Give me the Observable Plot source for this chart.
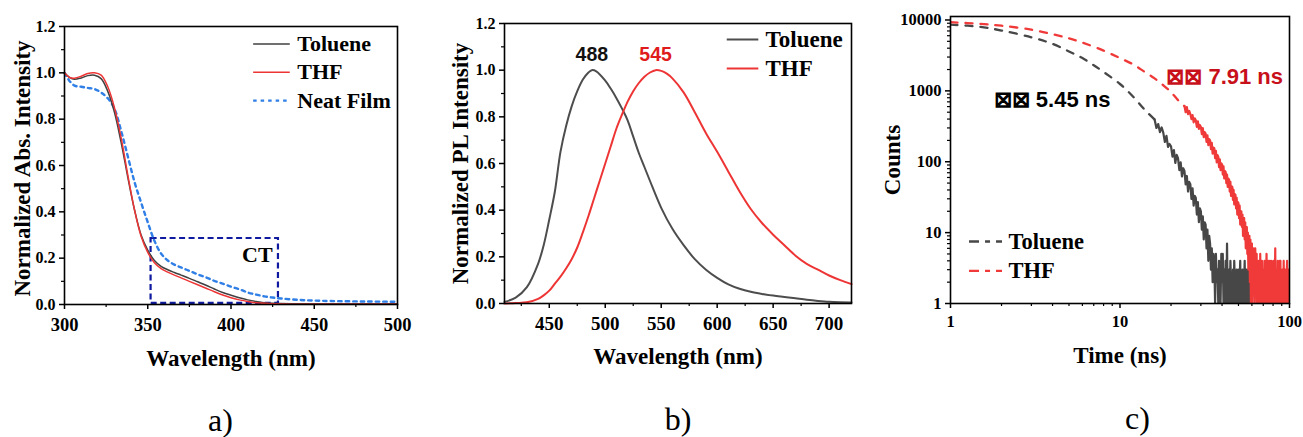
<!DOCTYPE html>
<html>
<head>
<meta charset="utf-8">
<script src="https://cdn.jsdelivr.net/npm/d3@7"></script>
<script src="https://cdn.jsdelivr.net/npm/@observablehq/plot@0.6"></script>
<style>
  html, body { margin: 0; padding: 0; background: #fff; }
  #wrap { position: relative; width: 1303px; height: 437px; overflow: hidden; background: #fff; }
  .panel { position: absolute; top: 0; }
</style>
</head>
<body>
<div id="wrap">
  <div class="panel" id="pa" style="left:0px"></div>
  <div class="panel" id="pb" style="left:430px"></div>
  <div class="panel" id="pc" style="left:870px"></div>
</div>
<script>
// ---------- Panel a: absorption ----------
const absWavelength = [300, 303, 306, 310, 314, 318, 322, 326, 330, 334, 338, 342, 346, 350, 354, 358, 362, 366, 370, 375, 380, 385, 390, 395, 400, 405, 410, 415, 420, 425, 430, 440, 450, 460, 480, 500];
const absToluene = [1.0, 0.98, 0.972, 0.978, 0.988, 0.99, 0.975, 0.92, 0.83, 0.70, 0.55, 0.41, 0.30, 0.235, 0.19, 0.165, 0.15, 0.138, 0.127, 0.113, 0.098, 0.083, 0.067, 0.052, 0.04, 0.029, 0.02, 0.013, 0.008, 0.005, 0.004, 0.003, 0.003, 0.003, 0.003, 0.003];
const absTHF = [1.0, 0.98, 0.977, 0.985, 0.997, 1.0, 0.99, 0.94, 0.85, 0.72, 0.56, 0.41, 0.295, 0.225, 0.18, 0.155, 0.14, 0.127, 0.115, 0.1, 0.085, 0.07, 0.055, 0.041, 0.029, 0.02, 0.013, 0.008, 0.005, 0.003, 0.002, 0.001, 0.001, 0.001, 0.001, 0.001];
const absNeatFilm = [1.0, 0.965, 0.945, 0.94, 0.935, 0.93, 0.915, 0.89, 0.845, 0.75, 0.64, 0.53, 0.44, 0.355, 0.275, 0.22, 0.19, 0.172, 0.16, 0.145, 0.13, 0.117, 0.102, 0.09, 0.077, 0.066, 0.052, 0.043, 0.035, 0.03, 0.026, 0.02, 0.017, 0.015, 0.013, 0.012];
const ctBox = {x1: 352, x2: 428.5, y1: 0.005, y2: 0.285};
const ctLabel = "CT";
const absSeries = ["Toluene", "THF", "Neat Film"];
const absXTicks = [300, 350, 400, 450, 500];
const absXMinor = [325, 375, 425, 475];
const absYTicks = [0, 0.2, 0.4, 0.6, 0.8, 1.0, 1.2];
const absYMinor = [0.1, 0.3, 0.5, 0.7, 0.9, 1.1];

// ---------- Panel b: PL ----------
const plWavelengthTol = [410, 420, 430, 440, 445, 450, 455, 460, 465, 470, 475, 480, 485, 488, 492, 500, 505, 510, 515, 520, 525, 530, 535, 540, 550, 560, 570, 580, 590, 600, 610, 620, 630, 640, 650, 660, 670, 680, 690, 700, 710, 720];
const plToluene = [0.007, 0.025, 0.07, 0.17, 0.25, 0.36, 0.48, 0.65, 0.76, 0.845, 0.91, 0.96, 0.99, 1.0, 0.995, 0.955, 0.92, 0.88, 0.835, 0.785, 0.715, 0.645, 0.585, 0.525, 0.41, 0.32, 0.25, 0.19, 0.145, 0.11, 0.082, 0.063, 0.05, 0.041, 0.034, 0.028, 0.022, 0.016, 0.011, 0.007, 0.005, 0.004];
const plWavelengthTHF = [410, 420, 430, 440, 445, 450, 455, 460, 465, 470, 475, 480, 485, 490, 495, 500, 505, 510, 515, 520, 525, 530, 535, 540, 545, 550, 555, 560, 570, 580, 590, 600, 610, 620, 630, 640, 650, 660, 670, 680, 690, 700, 710, 720];
const plTHF = [0.0, 0.002, 0.005, 0.02, 0.035, 0.055, 0.085, 0.115, 0.15, 0.19, 0.24, 0.305, 0.375, 0.45, 0.525, 0.6, 0.675, 0.75, 0.81, 0.865, 0.91, 0.945, 0.972, 0.99, 1.0, 0.997, 0.985, 0.965, 0.905, 0.82, 0.73, 0.65, 0.565, 0.48, 0.405, 0.345, 0.295, 0.25, 0.205, 0.17, 0.145, 0.12, 0.1, 0.083];
const plPeaks = [488, 545];
const plPeakLabels = ["488", "545"];
const plSeries = ["Toluene", "THF"];
const plXTicks = [450, 500, 550, 600, 650, 700];
const plXMinor = [425, 475, 525, 575, 625, 675];
const plYTicks = [0, 0.2, 0.4, 0.6, 0.8, 1.0, 1.2];
const plYMinor = [0.1, 0.3, 0.5, 0.7, 0.9, 1.1];

// ---------- Panel c: TRPL decay ----------
const decayTimeTol = [1, 1.5, 2, 3, 4, 5, 6, 7, 8, 10, 12, 14, 16];
const decayCountsTol = [8600, 8000, 7100, 5700, 4600, 3600, 2900, 2300, 1850, 1250, 820, 540, 395];
const decayTimeTHF = [1, 1.5, 2, 3, 4, 5, 6, 8, 10, 12, 14, 16, 18, 20, 22, 24];
const decayCountsTHF = [9300, 8800, 8300, 7300, 6300, 5500, 4800, 3700, 2900, 2350, 1850, 1500, 1200, 960, 740, 610];
const channelWidth = 0.4; // ns per channel in the noisy tails
const tolTailStart = 16;
const tolTailCounts = [395,300,340,262,305, 258,190,232,162,178, 165,118,146,96,125, 112,76,98,62,81, 74,48,63,38,52, 48,30,42,24,33, 31,18,27,14,22, 20,11,17,8,14, 13,6,11,4,9, 7,3,6,2,5, 4,1,5,2,3, 1,4,2,1,5, 2,5,1,3,1, 4,1,7,1,2, 3,1,4,2,1, 1,3,1,4,2, 1,2,3,1,1, 3,1,2,4,1, 1,2,3,1,1, 2,4,1,1,3, 1,1,3,1,2, 3,1,1,2,1];
const thfTailStart = 24;
const thfTailCounts = [610,500,590,470,520, 470,400,455,360,410, 385,310,372,290,330, 310,245,298,222,262, 250,190,236,172,208, 200,150,185,130,158, 155,112,142,98,124, 118,84,108,76,95, 92,66,86,58,74, 72,50,66,44,58, 56,38,52,33,45, 44,29,40,25,35, 34,22,31,18,27, 26,16,24,13,20, 20,12,18,9,15, 16,8,14,6,11, 12,5,10,3,9, 9,2,8,1,6, 7,1,5,2,6, 4,1,6,2,3, 5,1,3,1,4, 2,4,1,5,1, 3,1,4,1,2, 1,3,2,4,1, 3,1,2,5,1, 2,1,4,1,3, 1,4,3,1,2, 4,1,1,2,3, 1,4,1,3,1, 2,6,1,1,2, 1,3,1,4,1, 3,1,2,1,4, 1,4,1,3,1, 2,1,3,1,2, 1,4,1,3,1, 3,1,2,1,3, 1,3,4,1,2, 2,1,3,1,2, 3];
const lifetimeLabels = ["\u22A0\u22A0 5.45 ns", "\u22A0\u22A0 7.91 ns"];
const decaySeries = ["Toluene", "THF"];
const decayXTicks = [1, 10, 100];
const decayXMinor = [2,3,4,5,6,7,8,9,20,30,40,50,60,70,80,90];
const decayYTicks = [1, 10, 100, 1000, 10000];
const decayYMinor = [2,3,4,5,6,7,8,9,20,30,40,50,60,70,80,90,200,300,400,500,600,700,800,900,2000,3000,4000,5000,6000,7000,8000,9000];

// ---------- helpers ----------
const SERIF = "'Liberation Serif', 'Times New Roman', serif";
const SANS = "'Liberation Sans', Arial, sans-serif";
const C_GRAY = "#404040", C_GRAY_B = "#4d4d4d", C_RED = "#ee3535", C_BLUE = "#2f7fe6", C_NAVY = "#0f1a9e";
const C_GRAY_C = "#474747", C_RED_C = "#f03a3a";

function zipXY(xs, ys) { return xs.map((x, i) => ({x, y: ys[i]})); }
function tail(start, counts) { return counts.map((c, i) => ({x: start + i * channelWidth, y: c})); }
function baseStyle() {
  return {fontFamily: SERIF, fontWeight: "bold", color: "#000", background: "transparent", overflow: "visible"};
}
function axes(o) {
  return [
    Plot.axisX({ticks: o.xt, tickSize: 5, tickPadding: o.xpad, tickFormat: o.xf, fontSize: o.xfs, label: null, strokeWidth: 1.5}),
    Plot.axisX({ticks: o.xm, tickSize: 3, tickFormat: () => "", label: null, strokeWidth: 1.2}),
    Plot.axisY({ticks: o.yt, tickSize: 5, tickPadding: 4, tickFormat: o.yf, fontSize: o.yfs, label: null, strokeWidth: 1.5}),
    Plot.axisY({ticks: o.ym, tickSize: 3, tickFormat: () => "", label: null, strokeWidth: 1.2}),
    Plot.frame({stroke: "#000", strokeWidth: 1.6})
  ];
}
function titles(xt, yt, letter, o) {
  return [
    Plot.text([xt], {text: d => d, frameAnchor: "bottom", dx: o.xdx || 0, dy: o.xdy, lineAnchor: "bottom", fontSize: 23, fontWeight: "bold"}),
    Plot.text([yt], {text: d => d, frameAnchor: "left", dx: o.ydx, dy: o.ydy || 0, rotate: -90, lineAnchor: "middle", textAnchor: "middle", fontSize: 23, fontWeight: "bold"}),
    Plot.text([letter], {text: d => d, frameAnchor: "bottom", dx: o.ldx, dy: o.ldy, lineAnchor: "bottom", fontSize: 32, fontWeight: "normal"})
  ];
}

// ---------- Panel a ----------
const legA = {x1: 413.6, x2: 435.6, xt: 439.8, ys: [1.124, 1.002, 0.88]};
const pa = Plot.plot({
  width: 420, height: 437,
  marginLeft: 64, marginRight: 23, marginTop: 26, marginBottom: 133,
  x: {domain: [300, 500]},
  y: {domain: [0, 1.2]},
  style: baseStyle(),
  marks: [
    Plot.rect([ctBox], {x1: "x1", x2: "x2", y1: "y1", y2: "y2", fill: "none", stroke: C_NAVY, strokeWidth: 2.2, strokeDasharray: "6,3.5"}),
    Plot.line(zipXY(absWavelength, absNeatFilm), {x: "x", y: "y", stroke: C_BLUE, strokeWidth: 2.4, strokeDasharray: "3.5,4", curve: "catmull-rom"}),
    Plot.line(zipXY(absWavelength, absToluene), {x: "x", y: "y", stroke: C_GRAY, strokeWidth: 1.5, curve: "catmull-rom"}),
    Plot.line(zipXY(absWavelength, absTHF), {x: "x", y: "y", stroke: C_RED, strokeWidth: 1.5, curve: "catmull-rom"}),
    Plot.text([ctLabel], {text: d => d, x: 425, y: 0.213, textAnchor: "end", lineAnchor: "middle", fontSize: 22, fontWeight: "bold"}),
    Plot.ruleY([legA.ys[0]], {x1: legA.x1, x2: legA.x2, stroke: C_GRAY, strokeWidth: 1.5}),
    Plot.ruleY([legA.ys[1]], {x1: legA.x1, x2: legA.x2, stroke: C_RED, strokeWidth: 1.5}),
    Plot.ruleY([legA.ys[2]], {x1: legA.x1, x2: legA.x2, stroke: C_BLUE, strokeWidth: 2.4, strokeDasharray: "3.5,4"}),
    Plot.text(absSeries, {text: d => d, x: legA.xt, y: (d, i) => legA.ys[i], textAnchor: "start", lineAnchor: "middle", fontSize: 22, fontWeight: "bold"}),
    ...axes({xt: absXTicks, xm: absXMinor, xf: d => String(d), xfs: 18.5, xpad: 8, yt: absYTicks, ym: absYMinor, yf: d3.format(".1f"), yfs: 16}),
    ...titles("Wavelength (nm)", "Normalized Abs. Intensity", "a)", {xdy: 61, ydx: -42.3, ydy: 3, ldx: -10.5, ldy: 126})
  ]
});
document.getElementById("pa").appendChild(pa);

// ---------- Panel b ----------
const legB = {x1: 609, x2: 637.2, xt: 643.2, ys: [1.131, 1.007]};
const pb = Plot.plot({
  width: 430, height: 437,
  marginLeft: 74, marginRight: 9, marginTop: 23, marginBottom: 134,
  x: {domain: [410, 720]},
  y: {domain: [0, 1.2]},
  style: baseStyle(),
  marks: [
    Plot.line(zipXY(plWavelengthTol, plToluene), {x: "x", y: "y", stroke: C_GRAY_B, strokeWidth: 2, curve: "catmull-rom"}),
    Plot.line(zipXY(plWavelengthTHF, plTHF), {x: "x", y: "y", stroke: C_RED, strokeWidth: 2, curve: "catmull-rom"}),
    Plot.text(plPeakLabels, {text: d => d, x: (d, i) => plPeaks[i], y: 1.068, fill: (d, i) => i === 0 ? "#111" : "#e01b1b", fontFamily: SANS, fontSize: 19.5, fontWeight: "bold", lineAnchor: "middle"}),
    Plot.ruleY([legB.ys[0]], {x1: legB.x1, x2: legB.x2, stroke: C_GRAY_B, strokeWidth: 2}),
    Plot.ruleY([legB.ys[1]], {x1: legB.x1, x2: legB.x2, stroke: C_RED, strokeWidth: 2}),
    Plot.text(plSeries, {text: d => d, x: legB.xt, y: (d, i) => legB.ys[i], textAnchor: "start", lineAnchor: "middle", fontSize: 23, fontWeight: "bold"}),
    ...axes({xt: plXTicks, xm: plXMinor, xf: d => String(d), xfs: 19, xpad: 8, yt: plYTicks, ym: plYMinor, yf: d3.format(".1f"), yfs: 16}),
    ...titles("Wavelength (nm)", "Normalized PL Intensity", "b)", {xdy: 60, ydx: -44, ydy: 0, ldx: 0, ldy: 126})
  ]
});
document.getElementById("pb").appendChild(pb);

// ---------- Panel c ----------
const legC = {x1: 1.295, x2: 2.027, xt: 2.198, ys: [7.5, 2.89]};
const dashDecay = "7,8";
const pc = Plot.plot({
  width: 433, height: 437,
  marginLeft: 80, marginRight: 14, marginTop: 16, marginBottom: 134,
  x: {type: "log", domain: [1, 100]},
  y: {type: "log", domain: [1, 11200]},
  style: baseStyle(),
  marks: [
    Plot.line(zipXY(decayTimeTol, decayCountsTol), {x: "x", y: "y", stroke: C_GRAY_C, strokeWidth: 2.3, strokeDasharray: dashDecay, curve: "catmull-rom", clip: true}),
    Plot.line(tail(tolTailStart, tolTailCounts), {x: "x", y: "y", stroke: C_GRAY_C, strokeWidth: 2.2, clip: true}),
    Plot.line(zipXY(decayTimeTHF, decayCountsTHF), {x: "x", y: "y", stroke: C_RED_C, strokeWidth: 2.3, strokeDasharray: dashDecay, curve: "catmull-rom", clip: true}),
    Plot.line(tail(thfTailStart, thfTailCounts), {x: "x", y: "y", stroke: C_RED_C, strokeWidth: 2.2, clip: true}),
    Plot.text([lifetimeLabels[0]], {text: d => d, x: 8.78, y: 750, textAnchor: "end", lineAnchor: "middle", fontFamily: SANS, fontSize: 22, fontWeight: "bold", fill: "#000"}),
    Plot.text([lifetimeLabels[1]], {text: d => d, x: 91.6, y: 1585, textAnchor: "end", lineAnchor: "middle", fontFamily: SANS, fontSize: 22, fontWeight: "bold", fill: "#c8101a"}),
    Plot.ruleY([legC.ys[0]], {x1: legC.x1, x2: legC.x2, stroke: C_GRAY_C, strokeWidth: 2.4, strokeDasharray: "10,6,5,6"}),
    Plot.ruleY([legC.ys[1]], {x1: legC.x1, x2: legC.x2, stroke: C_RED_C, strokeWidth: 2.4, strokeDasharray: "10,6,5,6"}),
    Plot.text(decaySeries, {text: d => d, x: legC.xt, y: (d, i) => legC.ys[i], textAnchor: "start", lineAnchor: "middle", fontSize: 22.5, fontWeight: "bold"}),
    ...axes({xt: decayXTicks, xm: decayXMinor, xf: d => String(d), xfs: 16.5, xpad: 7, yt: decayYTicks, ym: decayYMinor, yf: d => String(d), yfs: 16.5}),
    ...titles("Time (ns)", "Counts", "c)", {xdy: 59.5, ydx: -58.3, ydy: 0, ldx: 17.5, ldy: 125})
  ]
});
document.getElementById("pc").appendChild(pc);
</script>
</body>
</html>
